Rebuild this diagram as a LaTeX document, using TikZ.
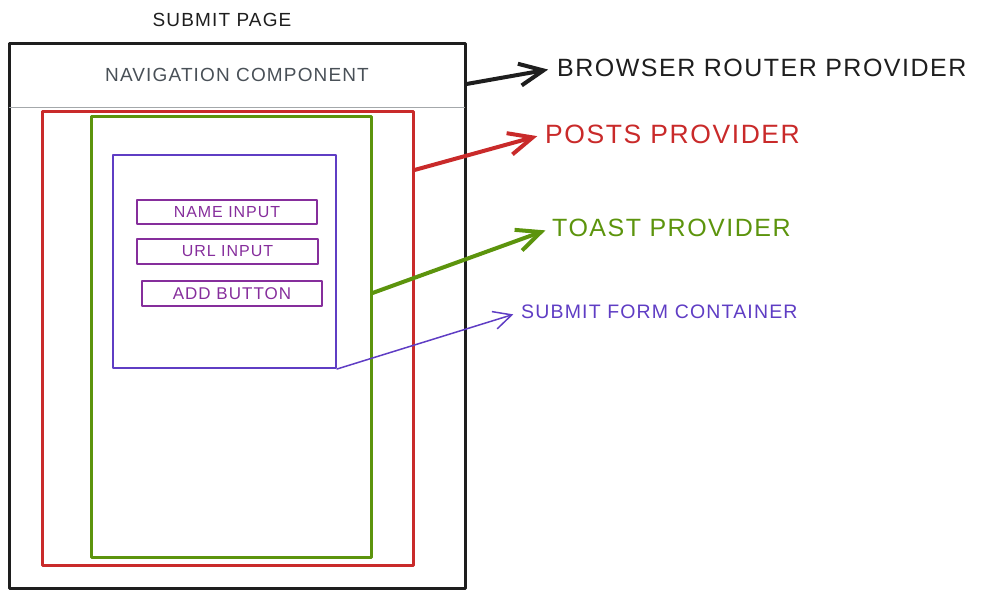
\documentclass[tikz,border=0pt]{standalone}
\usepackage{fontspec}
\newfontfamily\handfont[LetterSpace=6]{Liberation Sans}
\usetikzlibrary{arrows.meta}
\definecolor{inkblack}{HTML}{1E1E1E}
\definecolor{inkred}{HTML}{C92A2A}
\definecolor{inkgreen}{HTML}{5C940D}
\definecolor{inkviolet}{HTML}{5F3DC4}
\definecolor{inkgrape}{HTML}{862E9C}
\definecolor{inkgray}{HTML}{495057}

\begin{document}
\begin{tikzpicture}[x=1pt,y=-1pt,
    box/.style={draw,rectangle,inner sep=0pt,line join=round},
    lbl/.style={inner sep=0pt,anchor=west,font=\handfont\fontsize{25}{25}\selectfont},
    inputbox/.style={box,inkgrape,line width=1.2pt,text=inkgrape,font=\handfont\fontsize{16}{16}\selectfont},
    ptr/.style={line width=4pt,line cap=round,-{Straight Barb[length=24pt,width=22pt]}}
  ]
  \useasboundingbox (0,0) rectangle (984,598);

  % page with its navigation bar
  \node[inkblack,font=\handfont\fontsize{19}{19}\selectfont] (title) at (222,20) {SUBMIT PAGE};
  \node[box,inkblack,line width=3pt,minimum width=456pt,minimum height=545pt] (page) at (237,315.5) {};
  \node[inner sep=0pt,minimum width=456pt,minimum height=64pt,text=inkgray,
        font=\handfont\fontsize{19}{19}\selectfont] (nav) at (237,75) {NAVIGATION COMPONENT};
  \draw[inkgray!50,line width=0.8pt] (nav.south west) -- (nav.south east);

  % providers
  \node[box,inkred,line width=3pt,minimum width=371pt,minimum height=454pt] (posts) at (227.5,338) {};
  \node[box,inkgreen,line width=3pt,minimum width=280pt,minimum height=441pt] (toast) at (231,336.5) {};

  % form and its fields
  \node[box,inkviolet,line width=2pt,minimum width=223pt,minimum height=213pt] (form) at (224.5,261.5) {};
  \node[inputbox,minimum width=180pt,minimum height=24pt] (nameinput) at (227,212) {NAME INPUT};
  \node[inputbox,minimum width=181pt,minimum height=25pt] (urlinput) at (227.5,251.5) {URL INPUT};
  \node[inputbox,minimum width=180pt,minimum height=25pt,font=\handfont\fontsize{17}{17}\selectfont] (addbutton) at (232,293.5) {ADD BUTTON};

  % labels
  \node[lbl,text=inkblack] (browserlbl) at (557,68) {BROWSER ROUTER PROVIDER};
  \node[lbl,text=inkred,font=\handfont\fontsize{26.5}{26.5}\selectfont] (postslbl) at (545,134) {POSTS PROVIDER};
  \node[lbl,text=inkgreen] (toastlbl) at (552,228) {TOAST PROVIDER};
  \node[lbl,text=inkviolet,font=\handfont\fontsize{19.5}{19.5}\selectfont] (formlbl) at (521,312) {SUBMIT FORM CONTAINER};

  % pointers
  \draw[ptr,inkblack,shorten >=9pt] (page.east |- 0,84) -- (browserlbl.west);
  \draw[ptr,inkred,shorten >=8pt] (posts.east |- 0,170) -- (postslbl.west);
  \draw[ptr,inkgreen,shorten >=7pt] (toast.east |- 0,293) -- (toastlbl.west);
  \draw[inkviolet,line width=1.5pt,line cap=round,shorten >=8pt,
        -{Straight Barb[length=18pt,width=18pt]}] (form.south east) -- (formlbl.west);
\end{tikzpicture}
\end{document}
